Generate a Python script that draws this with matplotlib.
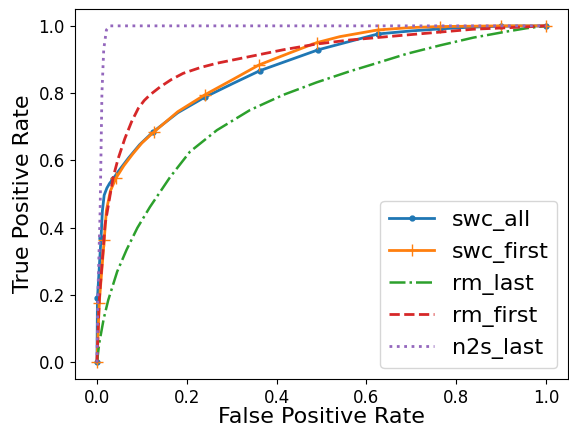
import numpy as np
import matplotlib
matplotlib.use("Agg")
import matplotlib.pyplot as plt

# ROC curves
swc_all_fpr = [0, 0.001, 0.009, 0.012, 0.016, 0.022, 0.028, 0.035, 0.05, 0.07, 0.095, 0.125,
               0.18, 0.24, 0.303, 0.363, 0.43, 0.493, 0.541, 0.626, 0.70, 0.764, 0.83, 0.9, 1.0]
swc_all_tpr = [0, 0.19, 0.37, 0.45, 0.497, 0.518, 0.532, 0.544, 0.572, 0.607, 0.647, 0.685,
               0.742, 0.788, 0.829, 0.867, 0.899, 0.929, 0.946, 0.976, 0.985, 0.991, 0.996, 0.999, 1.0]
swc_all_marks = [0, 1, 2, 7, 11, 13, 15, 17, 19, 21, 23, 24]

swc_first_fpr = [0, 0.005, 0.016, 0.021, 0.03, 0.042, 0.06, 0.08, 0.10, 0.127, 0.18, 0.24,
                 0.303, 0.361, 0.43, 0.489, 0.541, 0.626, 0.70, 0.764, 0.9, 1.0]
swc_first_tpr = [0, 0.177, 0.363, 0.452, 0.51, 0.547, 0.585, 0.62, 0.652, 0.685, 0.745, 0.795,
                 0.841, 0.884, 0.92, 0.95, 0.968, 0.988, 0.995, 0.998, 1.0, 1.0]
swc_first_marks = [0, 1, 2, 5, 9, 11, 13, 15, 17, 19, 20, 21]

rm_last_fpr = [0, 0.005, 0.015, 0.025, 0.045, 0.066, 0.09, 0.118, 0.163, 0.207, 0.267,
               0.341, 0.415, 0.489, 0.563, 0.615, 0.69, 0.764, 0.838, 0.912, 0.957, 1.0]
rm_last_tpr = [0, 0.057, 0.13, 0.185, 0.27, 0.335, 0.40, 0.462, 0.551, 0.626, 0.69,
               0.75, 0.795, 0.832, 0.865, 0.886, 0.917, 0.942, 0.965, 0.983, 0.993, 1.0]

rm_first_fpr = [0, 0.005, 0.018, 0.036, 0.047, 0.062, 0.077, 0.092, 0.105, 0.118, 0.14,
                0.165, 0.192, 0.23, 0.267, 0.341, 0.415, 0.489, 0.563, 0.69, 0.838, 0.957, 1.0]
rm_first_tpr = [0, 0.185, 0.41, 0.55, 0.605, 0.665, 0.715, 0.755, 0.778, 0.795, 0.818,
                0.84, 0.859, 0.876, 0.889, 0.909, 0.929, 0.946, 0.958, 0.973, 0.99, 0.997, 1.0]

n2s_last_fpr = [0, 0.002, 0.007, 0.011, 0.015, 0.021, 0.029, 1.0]
n2s_last_tpr = [0, 0.2, 0.452, 0.8, 0.93, 0.988, 1.0, 1.0]

fig = plt.figure(figsize=(5.69, 4.30), dpi=100)
ax = fig.add_axes([0.131, 0.118, 0.868, 0.861])

ax.plot(swc_all_fpr, swc_all_tpr, color='C0', marker='.', markersize=7,
        markevery=swc_all_marks, linewidth=2, label='swc_all')
ax.plot(swc_first_fpr, swc_first_tpr, color='C1', marker='+', markersize=9,
        markevery=swc_first_marks, linewidth=2, label='swc_first')
ax.plot(rm_last_fpr, rm_last_tpr, color='C2', linestyle='-.', linewidth=1.8, label='rm_last')
ax.plot(rm_first_fpr, rm_first_tpr, color='C3', linestyle='--', linewidth=2, label='rm_first')
ax.plot(n2s_last_fpr, n2s_last_tpr, color='C4', linestyle=':', linewidth=2, label='n2s_last')

ax.set_xlabel("False Positive Rate", fontsize=16, labelpad=0)
ax.set_ylabel("True Positive Rate", fontsize=16)
ax.tick_params(labelsize=12)
ax.legend(loc='lower right', fontsize=16)

fig.savefig("out.png", dpi=100)
